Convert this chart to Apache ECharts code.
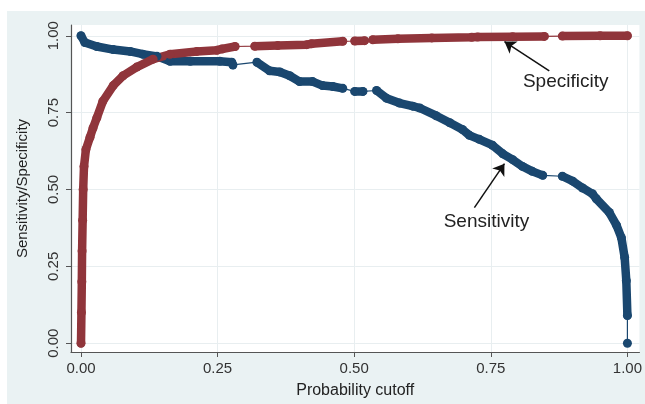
<!DOCTYPE html>
<html>
<head>
<meta charset="utf-8">
<script src="https://cdn.jsdelivr.net/npm/echarts@6/dist/echarts.min.js"></script>
<style>
  html, body { margin: 0; padding: 0; background: #fff; }
  #chart { width: 645px; height: 404px; }
</style>
</head>
<body>
<div id="chart"></div>
<script>
// specificity curve (red)
const specX = [0, 0.0008, 0.0015, 0.002, 0.003, 0.004, 0.0055, 0.009, 0.0165, 0.022, 0.029, 0.04, 0.059, 0.077, 0.102, 0.132, 0.163, 0.212, 0.249, 0.258, 0.282, 0.318, 0.36, 0.413, 0.422, 0.479, 0.501, 0.519, 0.534, 0.58, 0.642, 0.715, 0.726, 0.79, 0.848, 0.881, 0.95, 1.0];
const specY = [0, 0.1, 0.2, 0.3, 0.4, 0.5, 0.575, 0.63, 0.67, 0.7, 0.733, 0.787, 0.838, 0.87, 0.898, 0.924, 0.94, 0.949, 0.953, 0.957, 0.965, 0.966, 0.968, 0.971, 0.974, 0.982, 0.983, 0.984, 0.987, 0.99, 0.993, 0.995, 0.996, 0.997, 0.998, 0.999, 1.0, 1.0];
// index after which the markers stop and only the thin line joins
const specGaps = [20, 25, 27, 34];

// sensitivity curve (blue)
const sensX = [0, 0.007, 0.029, 0.059, 0.09, 0.113, 0.139, 0.163, 0.2, 0.254, 0.276, 0.278, 0.322, 0.345, 0.364, 0.382, 0.4, 0.424, 0.442, 0.461, 0.479, 0.501, 0.516, 0.541, 0.559, 0.583, 0.607, 0.62, 0.65, 0.675, 0.698, 0.711, 0.729, 0.753, 0.772, 0.79, 0.808, 0.826, 0.845, 0.881, 0.9, 0.918, 0.936, 0.943, 0.967, 0.98, 0.989, 0.995, 0.998, 1.0, 1.0];
const sensY = [1.0, 0.978, 0.965, 0.955, 0.949, 0.94, 0.933, 0.917, 0.917, 0.917, 0.914, 0.905, 0.914, 0.886, 0.882, 0.87, 0.851, 0.851, 0.838, 0.835, 0.829, 0.819, 0.819, 0.822, 0.797, 0.781, 0.771, 0.765, 0.74, 0.717, 0.695, 0.676, 0.663, 0.644, 0.616, 0.597, 0.575, 0.559, 0.546, 0.543, 0.527, 0.505, 0.486, 0.47, 0.425, 0.384, 0.343, 0.279, 0.203, 0.09, 0];
const sensGaps = [11, 20, 22, 38, 49];

const tickValues = [0, 0.25, 0.5, 0.75, 1];

// annotation arrows: [tail, head] and label positions, in data units
const specArrow = [[0.857, 0.886], [0.775, 0.981]];
const specLabelPos = [0.887, 0.851];
const sensArrow = [[0.72, 0.441], [0.775, 0.584]];
const sensLabelPos = [0.742, 0.394];

const navy = "#1a476f";
const maroon = "#90353b";
const font = "Liberation Sans, Arial, sans-serif";

function pairs(xs, ys) {
  return xs.map((x, i) => [x, ys[i]]);
}
function withBreaks(xs, ys, gaps) {
  const out = [];
  xs.forEach((x, i) => {
    out.push([x, ys[i]]);
    if (gaps.indexOf(i) >= 0) out.push(["-", "-"]);
  });
  return out;
}

function thin(name, xs, ys, color) {
  return {
    name: name + "_line",
    type: "line",
    data: pairs(xs, ys),
    showSymbol: false,
    lineStyle: { color: color, width: 1.2 },
    silent: true
  };
}
function thick(name, xs, ys, gaps, color) {
  return {
    name: name,
    type: "line",
    data: withBreaks(xs, ys, gaps),
    connectNulls: false,
    symbol: "circle",
    symbolSize: 9,
    showSymbol: true,
    itemStyle: { color: color },
    lineStyle: { color: color, width: 8.5, cap: "round", join: "round" }
  };
}

function arrow(seg) {
  return [{ coord: seg[0] }, { coord: seg[1] }];
}

const chart = echarts.init(document.getElementById("chart"));
const option = {
  animation: false,
  backgroundColor: "#ffffff",
  graphic: [
    {
      type: "rect",
      left: 7, top: 11,
      shape: { width: 645, height: 400 },
      style: { fill: "#eaf2f3" },
      z: -10
    }
  ],
  grid: {
    left: 71, right: 5, top: 25, bottom: 44,
    show: true,
    backgroundColor: "#ffffff",
    borderWidth: 0
  },
  xAxis: {
    type: "value",
    min: -0.0183,
    max: 1.022,
    name: "Probability cutoff",
    nameLocation: "middle",
    nameGap: 31,
    nameTextStyle: { fontFamily: font, fontSize: 16, color: "#222" },
    axisLine: { onZero: false, lineStyle: { color: "#555", width: 1.2 } },
    axisTick: { show: true, length: 5, customValues: tickValues, lineStyle: { color: "#555" } },
    axisLabel: {
      customValues: tickValues,
      formatter: v => v.toFixed(2),
      fontFamily: font, fontSize: 15, color: "#333", margin: 9
    },
    splitLine: { show: true, lineStyle: { color: "#e8eef0", width: 1 } }
  },
  yAxis: {
    type: "value",
    min: -0.0286,
    max: 1.035,
    name: "Sensitivity/Specificity",
    nameLocation: "middle",
    nameGap: 41,
    nameTextStyle: { fontFamily: font, fontSize: 15, color: "#222" },
    axisLine: { show: true, onZero: false, lineStyle: { color: "#555", width: 1.2 } },
    axisTick: { show: true, length: 5, customValues: tickValues, lineStyle: { color: "#555" } },
    axisLabel: {
      customValues: tickValues,
      formatter: v => v.toFixed(2),
      rotate: 90,
      fontFamily: font, fontSize: 15, color: "#333", margin: 10
    },
    splitLine: { show: true, lineStyle: { color: "#e8eef0", width: 1 } }
  },
  series: [
    thin("Sensitivity", sensX, sensY, navy),
    thick("Sensitivity", sensX, sensY, sensGaps, navy),
    thin("Specificity", specX, specY, maroon),
    Object.assign(thick("Specificity", specX, specY, specGaps, maroon), {
      markLine: {
        silent: true,
        symbol: ["none", "arrow"],
        symbolSize: 11,
        lineStyle: { color: "#111", width: 1.5, type: "solid" },
        label: { show: false },
        data: [arrow(specArrow), arrow(sensArrow)]
      },
      markPoint: {
        silent: true,
        symbol: "circle",
        symbolSize: 0,
        label: {
          show: true,
          position: "inside",
          fontFamily: font,
          fontSize: 19,
          color: "#222",
          formatter: p => p.name
        },
        data: [
          { name: "Specificity", coord: specLabelPos },
          { name: "Sensitivity", coord: sensLabelPos }
        ]
      }
    })
  ]
};
chart.setOption(option);
</script>
</body>
</html>
